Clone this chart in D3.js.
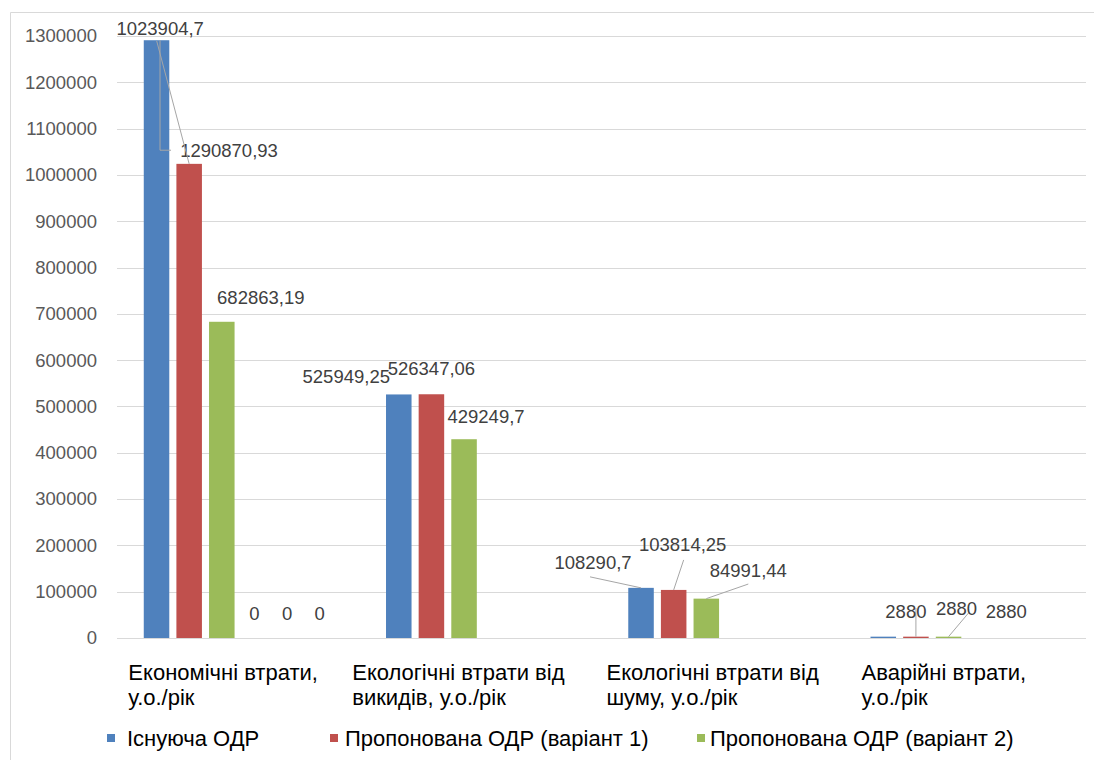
<!DOCTYPE html>
<html>
<head>
<meta charset="utf-8">
<script src="https://cdn.jsdelivr.net/npm/d3@7"></script>
<style>
  html, body { margin: 0; padding: 0; background: #fff; }
  svg { display: block; font-family: "Liberation Sans", Arial, sans-serif; }
</style>
</head>
<body>
<svg id="chart" width="1094" height="760"></svg>
<script>
// Categories (two-line labels)
const categories = [
  ["Економічні втрати,", "у.о./рік"],
  ["Екологічні втрати від", "викидів, у.о./рік"],
  ["Екологічні втрати від", "шуму, у.о./рік"],
  ["Аварійні втрати,", "у.о./рік"]
];

// Series values per category
const existingODR = [1290870.93, 525949.25, 108290.7, 2880];
const proposedV1  = [1023904.7, 526347.06, 103814.25, 2880];
const proposedV2  = [682863.19, 429249.7, 84991.44, 2880];
// Three unnamed helper series (only zeros in the first category)
const extraA = [0, null, null, null];
const extraB = [0, null, null, null];
const extraC = [0, null, null, null];

const legendNames = ["Існуюча ОДР", "Пропонована ОДР (варіант 1)", "Пропонована ОДР (варіант 2)"];
const yTicks = [0, 100000, 200000, 300000, 400000, 500000, 600000, 700000, 800000, 900000, 1000000, 1100000, 1200000, 1300000];

const series = [existingODR, proposedV1, proposedV2, extraA, extraB, extraC];
const colors = ["#4f81bd", "#c0504d", "#9bbb59", "#4bacc6", "#f79646", "#8064a2"];

// Data-label placement (offsets from bar top-centre) and leader lines
// lead: points relative to the label centre, finished at the bar top (+endDx)
const labelLayout = [
  [ {dx: 72.5, dy: 110, lead: [[-58, 0], [-69, 0]], endDx: 3.5},
    {dx: -29, dy: -135, lead: [[-3.5, 12]], endDx: 0},
    {dx: 39, dy: -24},
    {dx: 0, dy: -25}, {dx: 0, dy: -25}, {dx: 0, dy: -25} ],
  [ {dx: -52.5, dy: -17.5},
    {dx: 0, dy: -26},
    {dx: 22, dy: -23} ],
  [ {dx: -48, dy: -25, lead: [[-3, 14]], endDx: 0},
    {dx: 9, dy: -45, lead: [[1, 15]], endDx: 0},
    {dx: 42, dy: -28.6, lead: [[0, 14]], endDx: 0} ],
  [ {dx: 123, dy: -24.7},
    {dx: -10, dy: -24.7, lead: [[10, -4]], endDx: 0},
    {dx: 8, dy: -27.7, lead: [[12, 4]], endDx: 0} ]
];
// Horizontal nudge of each category label block
const catShift = [-15, -22, -10, -21];

const svg = d3.select("#chart");
const plot = {left: 117, right: 1086, top: 36, bottom: 638};

// Outer chart frame
svg.append("path")
  .attr("d", "M10.5,760 V12.5 H1094")
  .attr("fill", "none").attr("stroke", "#d9d9d9").attr("stroke-width", 1);

const x0 = d3.scaleBand().domain(d3.range(categories.length)).range([plot.left, plot.right]).padding(0);
const x1 = d3.scaleBand().domain(d3.range(series.length)).range([0, x0.bandwidth()])
  .paddingInner(0.218).paddingOuter(0.82);
const y = d3.scaleLinear().domain([0, 1300000]).range([plot.bottom, plot.top]);

// Gridlines
svg.append("g").selectAll("line").data(yTicks).join("line")
  .attr("x1", plot.left).attr("x2", plot.right)
  .attr("y1", d => Math.round(y(d)) + 0.5).attr("y2", d => Math.round(y(d)) + 0.5)
  .attr("stroke", "#d9d9d9").attr("stroke-width", 1);

// Y axis tick labels
const yAxis = d3.axisLeft(y).tickValues(yTicks).tickFormat(d3.format("d")).tickSize(0).tickPadding(20);
const gy = svg.append("g").attr("transform", `translate(${plot.left},0)`).call(yAxis);
gy.select(".domain").remove();
gy.selectAll("text").attr("fill", "#595959").style("font-size", "18.5px")
  .style("font-family", '"Liberation Sans", Arial, sans-serif');

// Bars
const barData = [];
series.forEach((vals, si) => vals.forEach((v, ci) => {
  if (v !== null) barData.push({si, ci, v});
}));
svg.append("g").selectAll("rect").data(barData.filter(d => d.v > 0)).join("rect")
  .attr("x", d => x0(d.ci) + x1(d.si))
  .attr("width", x1.bandwidth())
  .attr("y", d => y(d.v))
  .attr("height", d => y(0) - y(d.v))
  .attr("fill", d => colors[d.si]);

// Data labels with leader lines
const fmt = v => String(v).replace(".", ",");
const lbl = svg.append("g");
barData.forEach(d => {
  const lay = labelLayout[d.ci][d.si];
  const bx = x0(d.ci) + x1(d.si) + x1.bandwidth() / 2;
  const by = y(d.v);
  const cx = bx + lay.dx, cy = by + lay.dy;
  if (lay.lead) {
    const pts = lay.lead.map(p => [cx + p[0], cy + p[1]]);
    pts.push([bx + lay.endDx, by]);
    lbl.append("path")
      .attr("d", d3.line()(pts))
      .attr("fill", "none").attr("stroke", "#a6a6a6").attr("stroke-width", 1);
  }
  lbl.append("text")
    .attr("x", cx).attr("y", cy)
    .attr("text-anchor", "middle").attr("dominant-baseline", "central")
    .attr("fill", "#404040").style("font-size", "18.5px")
    .text(fmt(d.v));
});

// Category labels (left-aligned block, centred under the group)
const catG = svg.append("g");
categories.forEach((lines, ci) => {
  const g = catG.append("g");
  const t = g.append("text").attr("fill", "#000").style("font-size", "22px");
  lines.forEach((ln, i) => {
    t.append("tspan").attr("x", 0).attr("y", 672 + i * 25).attr("dominant-baseline", "central").text(ln);
  });
  const w = d3.max(t.selectAll("tspan").nodes(), n => n.getComputedTextLength());
  const cx = x0(ci) + x0.bandwidth() / 2;
  g.attr("transform", `translate(${cx - w / 2 + catShift[ci]},0)`);
});

// Legend
const legendX = [107, 330, 697];
const legendGap = [20, 15, 13];
const lg = svg.append("g");
legendNames.forEach((name, i) => {
  lg.append("rect").attr("x", legendX[i]).attr("y", 734).attr("width", 8).attr("height", 8).attr("fill", colors[i]);
  lg.append("text").attr("x", legendX[i] + legendGap[i]).attr("y", 738)
    .attr("dominant-baseline", "central").attr("fill", "#000").style("font-size", "22px").text(name);
});
</script>
</body>
</html>
